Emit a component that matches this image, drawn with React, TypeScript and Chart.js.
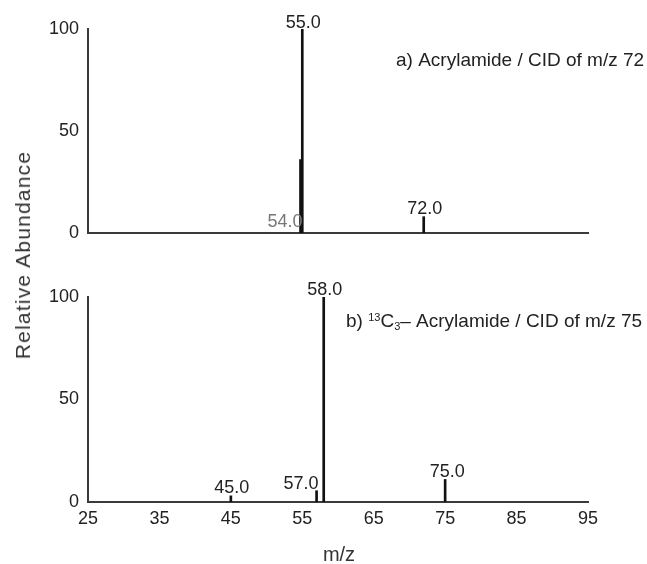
import React, { useEffect, useRef } from 'react';
import { Chart, registerables } from 'chart.js';

Chart.register(...registerables);

// ---- data ----
const X_MIN = 25;
const X_MAX = 95;
const X_STEP = 10;
const Y_MIN = 0;
const Y_MAX = 100;
const Y_STEP = 50;

const X_TITLE = 'm/z';
const Y_TITLE = 'Relative Abundance';

// Panel a) Acrylamide
const A_MZ = [54.75, 55, 72];
const A_ABUND = [36, 100, 8];
const A_PEAK_LABELS = ['54.0', '55.0', '72.0'];
const A_TITLE = 'a) Acrylamide / CID of m/z 72';

// Panel b) 13C3-Acrylamide
const B_MZ = [45, 57, 58, 75];
const B_ABUND = [3, 5.5, 100, 11];
const B_PEAK_LABELS = ['45.0', '57.0', '58.0', '75.0'];
const B_TITLE_PARTS = ['b) ', '13', 'C', '3', '\u2013 Acrylamide / CID of m/z 75'];

// ---- styles ----
const FONT = '"Liberation Sans", Arial, sans-serif';
const TEXT = '#222';
const AXIS = '#3a3a3a';
const BAR = '#111';

type LabelStyle = { align: 'center' | 'right'; mode: 'top' | 'base'; dx: number; dy: number; color: string };

const A_LABEL_STYLE: LabelStyle[] = [
  { align: 'right', mode: 'base', dx: 2, dy: -6, color: '#777' },
  { align: 'center', mode: 'top', dx: 1, dy: -1, color: TEXT },
  { align: 'center', mode: 'top', dx: 1, dy: -3, color: TEXT },
];
const B_LABEL_STYLE: LabelStyle[] = [
  { align: 'center', mode: 'top', dx: 1, dy: -3, color: TEXT },
  { align: 'right', mode: 'top', dx: 2, dy: -2, color: TEXT },
  { align: 'center', mode: 'top', dx: 1, dy: -2, color: TEXT },
  { align: 'center', mode: 'top', dx: 2, dy: -2, color: TEXT },
];

function peakLabelPlugin(labels: string[], styles: LabelStyle[], drawTitle: (ctx: CanvasRenderingContext2D, chart: any) => void) {
  return {
    id: 'peakLabels',
    afterDraw(chart: any) {
      const ctx: CanvasRenderingContext2D = chart.ctx;
      const xs = chart.scales.x;
      const ys = chart.scales.y;
      const data = chart.data.datasets[0].data as { x: number; y: number }[];
      ctx.save();
      ctx.font = `18px ${FONT}`;
      ctx.textBaseline = 'alphabetic';
      data.forEach((p, i) => {
        const st = styles[i];
        const px = xs.getPixelForValue(p.x) + st.dx;
        const py = (st.mode === 'top' ? ys.getPixelForValue(p.y) : ys.getPixelForValue(0)) + st.dy;
        ctx.fillStyle = st.color;
        ctx.textAlign = st.align;
        ctx.fillText(labels[i], px, py);
      });
      drawTitle(ctx, chart);
      ctx.restore();
    },
  };
}

function makeOptions(showXTicks: boolean, padding: any, xAxisHeight: number) {
  return {
    responsive: false,
    animation: false as const,
    events: [] as any[],
    layout: { padding },
    plugins: { legend: { display: false }, tooltip: { enabled: false }, title: { display: false } },
    scales: {
      x: {
        type: 'linear' as const,
        min: X_MIN,
        max: X_MAX,
        offset: false,
        grid: { display: false, drawTicks: false, offset: false },
        border: { display: true, color: AXIS, width: 2 },
        ticks: {
          display: showXTicks,
          stepSize: X_STEP,
          padding: 6,
          color: TEXT,
          font: { size: 18, family: FONT },
          maxRotation: 0,
        },
        afterFit: (axis: any) => {
          axis.height = xAxisHeight;
        },
      },
      y: {
        min: Y_MIN,
        max: Y_MAX,
        grid: { display: false, drawTicks: false },
        border: { display: true, color: AXIS, width: 2 },
        ticks: {
          stepSize: Y_STEP,
          padding: 9,
          color: TEXT,
          font: { size: 18, family: FONT },
        },
        afterFit: (axis: any) => {
          axis.width = 88;
        },
      },
    },
  };
}

const TOP_H = 253;
const BOT_H = 564 - TOP_H;

export default function App() {
  const refA = useRef<HTMLCanvasElement>(null);
  const refB = useRef<HTMLCanvasElement>(null);

  useEffect(() => {
    const chartA = new Chart(refA.current!, {
      type: 'bar',
      data: {
        datasets: [
          {
            data: A_MZ.map((x, i) => ({ x, y: A_ABUND[i] })),
            backgroundColor: BAR,
            barThickness: 2,
          },
        ],
      },
      // chart area: top 29, bottom 233
      options: makeOptions(false, { left: 0, right: 59, top: 29, bottom: TOP_H - 233 }, 0) as any,
      plugins: [
        peakLabelPlugin(A_PEAK_LABELS, A_LABEL_STYLE, (ctx) => {
          ctx.font = `19px ${FONT}`;
          ctx.fillStyle = TEXT;
          ctx.textAlign = 'left';
          ctx.textBaseline = 'alphabetic';
          ctx.fillText(A_TITLE, 396, 66);
        }),
      ],
    });

    const chartB = new Chart(refB.current!, {
      type: 'bar',
      data: {
        datasets: [
          {
            data: B_MZ.map((x, i) => ({ x, y: B_ABUND[i] })),
            backgroundColor: BAR,
            barThickness: 2,
          },
        ],
      },
      // chart area: top 297, bottom 502 (page coords)
      options: makeOptions(true, { left: 0, right: 59, top: 297 - TOP_H, bottom: 564 - 502 - 30 }, 30) as any,
      plugins: [
        peakLabelPlugin(B_PEAK_LABELS, B_LABEL_STYLE, (ctx) => {
          ctx.fillStyle = TEXT;
          ctx.textAlign = 'left';
          ctx.textBaseline = 'alphabetic';
          let x = 346;
          const base = 327 - TOP_H;
          const big = `19px ${FONT}`;
          const small = `11px ${FONT}`;
          const [p0, sup, c, sub, rest] = B_TITLE_PARTS;
          ctx.font = big;
          ctx.fillText(p0, x, base);
          x += ctx.measureText(p0).width;
          ctx.font = small;
          ctx.fillText(sup, x, base - 6);
          x += ctx.measureText(sup).width;
          ctx.font = big;
          ctx.fillText(c, x, base);
          x += ctx.measureText(c).width;
          ctx.font = small;
          ctx.fillText(sub, x, base + 3);
          x += ctx.measureText(sub).width;
          ctx.font = big;
          ctx.fillText(rest, x, base);
        }),
      ],
    });

    return () => {
      chartA.destroy();
      chartB.destroy();
    };
  }, []);

  return (
    <div style={{ position: 'absolute', left: 0, top: 0, width: 647, height: 564, background: '#fff', overflow: 'hidden' }}>
      <canvas ref={refA} width={647} height={TOP_H} style={{ position: 'absolute', left: 0, top: 0, width: 647, height: TOP_H }} />
      <canvas ref={refB} width={647} height={BOT_H} style={{ position: 'absolute', left: 0, top: TOP_H, width: 647, height: BOT_H }} />
      <div
        style={{
          position: 'absolute',
          left: 23,
          top: 255,
          transform: 'translate(-50%, -50%) rotate(-90deg)',
          whiteSpace: 'nowrap',
          font: `21px ${FONT}`,
          letterSpacing: '1.2px',
          color: '#333',
        }}
      >
        {Y_TITLE}
      </div>
      <div
        style={{
          position: 'absolute',
          left: 339,
          top: 554,
          transform: 'translate(-50%, -50%)',
          whiteSpace: 'nowrap',
          font: `20px ${FONT}`,
          color: '#333',
        }}
      >
        {X_TITLE}
      </div>
    </div>
  );
}
